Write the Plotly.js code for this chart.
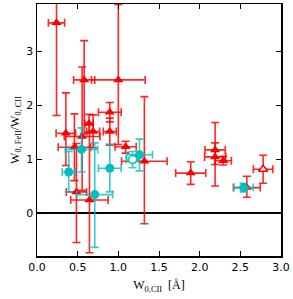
<!DOCTYPE html>
<html>
<head>
<meta charset="utf-8">
<script src="https://cdn.plot.ly/plotly-3.0.1.min.js"></script>
<style>html,body{margin:0;padding:0;background:#fff;}#chart{width:293px;height:299px;}</style>
</head>
<body>
<div id="chart"></div>
<script>
// Red filled triangles
const redX      = [0.24, 0.58, 1.00, 0.355, 0.555, 0.64, 0.69, 0.895, 0.895, 0.46, 1.09, 1.32, 0.485, 0.645, 1.89, 2.19, 2.19, 2.29, 2.58];
const redY      = [3.53, 2.47, 2.47, 1.48, 1.42, 1.66, 1.51, 1.51, 1.87, 1.22, 1.23, 0.96, 0.39, 0.24, 0.74, 1.17, 1.04, 0.97, 0.47];
const redXerr   = [0.10, 0.13, 0.33, 0.12, 0.22, 0.05, 0.08, 0.08, 0.14, 0.20, 0.13, 0.28, 0.125, 0.23, 0.185, 0.125, 0.13, 0.10, 0.165];
const redYplus  = [1.50, 0.73, 1.40, 0.75, 1.29, 0.17, 0.31, 0.25, 0.18, 0.62, 0.10, 1.20, 0.90, 1.40, 0.21, 0.51, 0.26, 0.08, 0.21];
const redYminus = [1.72, 1.00, 1.20, 0.60, 1.00, 0.16, 0.30, 0.25, 0.18, 0.62, 0.12, 1.16, 0.94, 0.98, 0.21, 0.67, 0.14, 0.08, 0.18];
// Red open triangle
const redOpenX = [2.78], redOpenY = [0.81], redOpenXerr = [0.12], redOpenYerr = [0.26];
// Cyan filled circles
const cyanX      = [0.39, 0.547, 0.71, 0.895, 1.26, 2.54];
const cyanY      = [0.76, 1.18, 0.34, 0.83, 1.08, 0.47];
const cyanXerr   = [0.08, 0.20, 0.22, 0.14, 0.16, 0.12];
const cyanYplus  = [0.38, 0.40, 0.96, 0.45, 0.29, 0.08];
const cyanYminus = [0.37, 0.42, 0.98, 0.44, 0.30, 0.08];
// Cyan open circle
const cyanOpenX = [1.175], cyanOpenY = [0.99], cyanOpenXerr = [0.08], cyanOpenYerr = [0.15];

const xTicks = [0, 0.5, 1.0, 1.5, 2.0, 2.5, 3.0];
const xTickText = ['0.0','0.5','1.0','1.5','2.0','2.5','3.0'];
const yTicks = [0, 1, 2, 3];

const RED = 'rgba(255,0,0,0.85)';
const CYAN = 'rgba(0,191,191,0.8)';

function errs(col, xe, yp, ym) {
  return {
    error_x: {type:'data', array: xe, symmetric: true, color: col, thickness: 1.6, width: 4},
    error_y: {type:'data', array: yp, arrayminus: ym, symmetric: false, color: col, thickness: 1.6, width: 4}
  };
}

const traces = [
  Object.assign({x: redX, y: redY, type:'scatter', mode:'markers',
    marker:{symbol:'triangle-up', size:9, color:'#ff0000', line:{width:0}}}, errs(RED, redXerr, redYplus, redYminus)),
  Object.assign({x: redOpenX, y: redOpenY, type:'scatter', mode:'markers',
    marker:{symbol:'triangle-up', size:8, color:'#ffffff', line:{width:1.5, color:'#ff0000'}}}, errs(RED, redOpenXerr, redOpenYerr, redOpenYerr)),
  Object.assign({x: cyanX, y: cyanY, type:'scatter', mode:'markers',
    marker:{symbol:'circle', size:9, color:'#00bfbf', line:{width:0}}}, errs(CYAN, cyanXerr, cyanYplus, cyanYminus)),
  Object.assign({x: cyanOpenX, y: cyanOpenY, type:'scatter', mode:'markers',
    marker:{symbol:'circle', size:8, color:'#ffffff', line:{width:1.5, color:'#00bfbf'}}}, errs(CYAN, cyanOpenXerr, cyanOpenYerr, cyanOpenYerr))
];

const axisCommon = {
  showline: true, linecolor: '#000', linewidth: 1.5, mirror: 'ticks',
  ticks: 'inside', ticklen: 5, tickwidth: 1, tickcolor: '#000',
  showgrid: false,
  tickfont: {family: 'DejaVu Sans', size: 11, color: '#000'}
};

const layout = {
  width: 293, height: 299,
  margin: {l: 37, r: 12, t: 4, b: 43},
  paper_bgcolor: '#fff', plot_bgcolor: '#fff',
  showlegend: false,
  xaxis: Object.assign({}, axisCommon, {
    range: [0, 3], tickvals: xTicks, ticktext: xTickText, zeroline: false,
    title: {text: 'W<sub>0,CII</sub>  [Å]', font: {family: 'Liberation Serif', size: 12, color: '#000'}, standoff: 8}
  }),
  yaxis: Object.assign({}, axisCommon, {
    range: [-0.8, 3.88], tickvals: yTicks, zeroline: true, zerolinecolor: '#000', zerolinewidth: 1.5,
    title: {text: 'W<sub>0, FeII</sub>/W<sub>0, CII</sub>', font: {family: 'Liberation Serif', size: 12, color: '#000'}, standoff: 4}
  })
};

Plotly.newPlot('chart', traces, layout, {displayModeBar: false, staticPlot: true});
</script>
</body>
</html>
